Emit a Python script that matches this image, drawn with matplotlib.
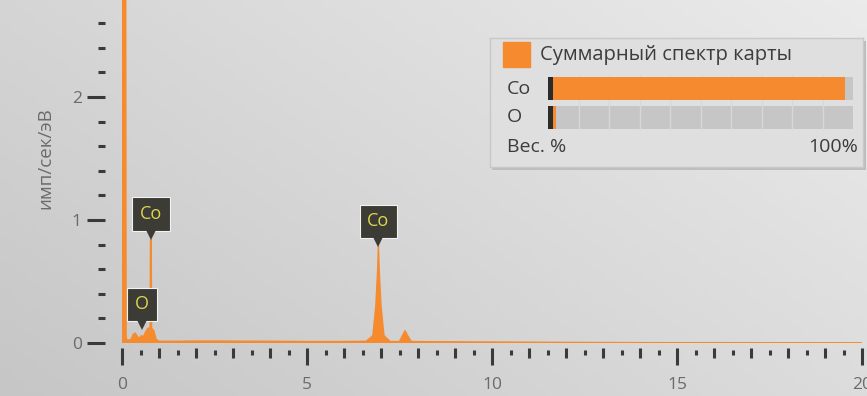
import numpy as np
import matplotlib
matplotlib.use("Agg")
import matplotlib.pyplot as plt
from matplotlib.patches import Rectangle
from matplotlib.ticker import FixedLocator
import matplotlib.transforms as mtransforms

plt.rcParams["font.family"] = ["Open Sans", "DejaVu Sans"]

# spectrum (keV, counts/s/eV)
energy = [0.0, 0.09, 0.11, 0.14, 0.25, 0.30, 0.36, 0.42, 0.48, 0.52, 0.58, 0.64,
          0.70, 0.76, 0.77, 0.79, 0.80, 0.86, 0.92, 1.0, 1.5, 2.0, 2.5, 3.0, 4.0,
          5.0, 6.0, 6.6, 6.78, 6.86, 6.91, 6.93, 6.95, 7.0, 7.08, 7.25, 7.5, 7.58,
          7.65, 7.72, 7.82, 8.5, 10.0, 12.0, 14.0, 20.0]
counts = [6.0, 6.0, 0.05, 0.02, 0.03, 0.07, 0.08, 0.05, 0.04, 0.06, 0.05, 0.09,
          0.12, 0.12, 0.84, 0.84, 0.12, 0.10, 0.03, 0.014, 0.014, 0.016, 0.016, 0.015, 0.014,
          0.012, 0.012, 0.014, 0.06, 0.30, 0.60, 0.80, 0.60, 0.30, 0.06, 0.012, 0.012, 0.06,
          0.10, 0.06, 0.012, 0.01, 0.008, 0.005, 0.003, 0.002]

# peak labels
label_names = ["O", "Co", "Co"]
label_energy = [0.54, 0.78, 6.93]
label_tip = [0.105, 0.84, 0.78]

# legend panel: weight percent
elements = ["Co", "O"]
weight_pct = [97.4, 2.6]
legend_title = "Суммарный спектр карты"

ORANGE = "#f68a2e"
W, H = 867, 396


def px(x0, y0, x1, y1):
    return [x0 / W, 1 - y1 / H, (x1 - x0) / W, (y1 - y0) / H]


fig = plt.figure(figsize=(W / 100, H / 100), dpi=100)

# background gradient
bg = fig.add_axes([0, 0, 1, 1])
gx, gy = np.meshgrid(np.linspace(0, 1, 200), np.linspace(0, 1, 100))
grad = 0.6 * gx + 0.4 * (1 - gy)
bg.imshow(grad, cmap=matplotlib.colors.LinearSegmentedColormap.from_list(
    "g", ["#c6c6c6", "#ebebeb"]), aspect="auto", extent=[0, 1, 0, 1], origin="upper")
bg.axis("off")
fig.patches.append(Rectangle((0, 0), 8 / W, 1, transform=fig.transFigure,
                             color="#f4f4f4", zorder=-1))
fig.patches.append(Rectangle((8 / W, 0), 4 / W, 1, transform=fig.transFigure,
                             color="#7c7c7c", zorder=-1))

# main spectrum axes
ax = fig.add_axes(px(122, 0, 862, 343))
ax.set_facecolor("none")
ax.fill_between(energy, counts, 0, color=ORANGE, lw=0)
ax.plot(energy, counts, color=ORANGE, lw=1.0)
ax.set_xlim(0, 20)
ax.set_ylim(0, 343 / 123)

for s in ax.spines.values():
    s.set_visible(False)
ax.spines["bottom"].set_position(("outward", 3.6))
ax.spines["left"].set_position(("outward", 12.5))

tick_col = "#3a3a3a"
lab_col = "#6b6b6b"
ax.xaxis.set_major_locator(FixedLocator([0, 5, 10, 15, 20]))
ax.xaxis.set_minor_locator(FixedLocator([i for i in range(1, 20) if i % 5]))
ax.tick_params(axis="x", which="major", length=12.2, width=2.2, color=tick_col,
               labelsize=12.5, labelcolor=lab_col, pad=8.5)
ax.tick_params(axis="x", which="minor", length=7.5, width=2.2, color=tick_col)

sec = ax.secondary_xaxis(-7 / 343)
sec.spines["bottom"].set_visible(False)
sec.xaxis.set_major_locator(FixedLocator([i + 0.5 for i in range(20)]))
sec.tick_params(length=3.8, width=2.2, color=tick_col, labelbottom=False)

ax.yaxis.set_major_locator(FixedLocator([0, 1, 2]))
ax.yaxis.set_minor_locator(FixedLocator([i / 5 for i in range(14) if i % 5]))
ax.tick_params(axis="y", which="major", length=13, width=2.2, color=tick_col,
               labelsize=12.5, labelcolor=lab_col, pad=3.5)
ax.tick_params(axis="y", which="minor", length=5, width=2.2, color=tick_col)
fig.text(45 / W, 1 - 158 / H, "имп/сек/эВ", rotation=90, ha="center", va="center",
         fontsize=13.5, color=lab_col)

# peak labels
tri = mtransforms.offset_copy(ax.transData, fig=fig, x=0, y=5, units="dots")
for name, e, t in zip(label_names, label_energy, label_tip):
    ax.annotate(name, xy=(e, t), xytext=(0, 18.5), textcoords="offset points",
                ha="center", va="center", fontsize=13, color="#dcd84e", zorder=5,
                bbox=dict(boxstyle="square,pad=0.42", fc="#3c3b36", ec="#f2f2f2", lw=0.8))
    ax.plot(e, t, marker="v", ms=7, color="#3c3b36", mew=0, transform=tri, zorder=6)

# legend panel
shadow = fig.add_axes(px(492, 41, 866, 170))
shadow.set_facecolor("#bdbdbd")
shadow.set_xticks([])
shadow.set_yticks([])
for s in shadow.spines.values():
    s.set_visible(False)
panel = fig.add_axes(px(490, 38, 863, 167))
panel.set_facecolor("#dfdfdf")
panel.set_xticks([])
panel.set_yticks([])
for s in panel.spines.values():
    s.set_color("#c8c8c8")
    s.set_linewidth(1)

fig.patches.append(Rectangle((503 / W, 1 - 67 / H), 27 / W, 25 / H,
                             transform=fig.transFigure, color=ORANGE, zorder=10))
fig.text(540 / W, 1 - 55 / H, legend_title, ha="left", va="center", fontsize=14.5,
         color="#3c3c3c", zorder=10)

bars = fig.add_axes(px(548, 75, 853, 130))
bars.set_facecolor("none")
ypos = list(range(len(elements)))
bars.barh(ypos, [100] * len(elements), height=0.79, color="#c6c6c6", zorder=1)
bars.vlines([10 * i for i in range(1, 10)], -0.5, 1.5, color="#d8d8d8", lw=1, zorder=2)
bars.barh(ypos, weight_pct, height=0.79, color=ORANGE, zorder=3)
bars.barh(ypos, [1.6] * len(elements), height=0.79, color="#2b2b2b", zorder=4)
bars.set_xlim(0, 100)
bars.set_ylim(1.43, -0.466)
bars.axis("off")
for i, el in enumerate(elements):
    fig.text(507 / W, 1 - (88.5 + 29 * i) / H, el, ha="left", va="center",
             fontsize=14, color="#3c3c3c")
fig.text(507 / W, 1 - 147 / H, "Вес. %", ha="left", va="center", fontsize=14,
         color="#3c3c3c")
fig.text(858 / W, 1 - 147 / H, "100%", ha="right", va="center", fontsize=14,
         color="#3c3c3c")

fig.savefig("out.png", dpi=100)
